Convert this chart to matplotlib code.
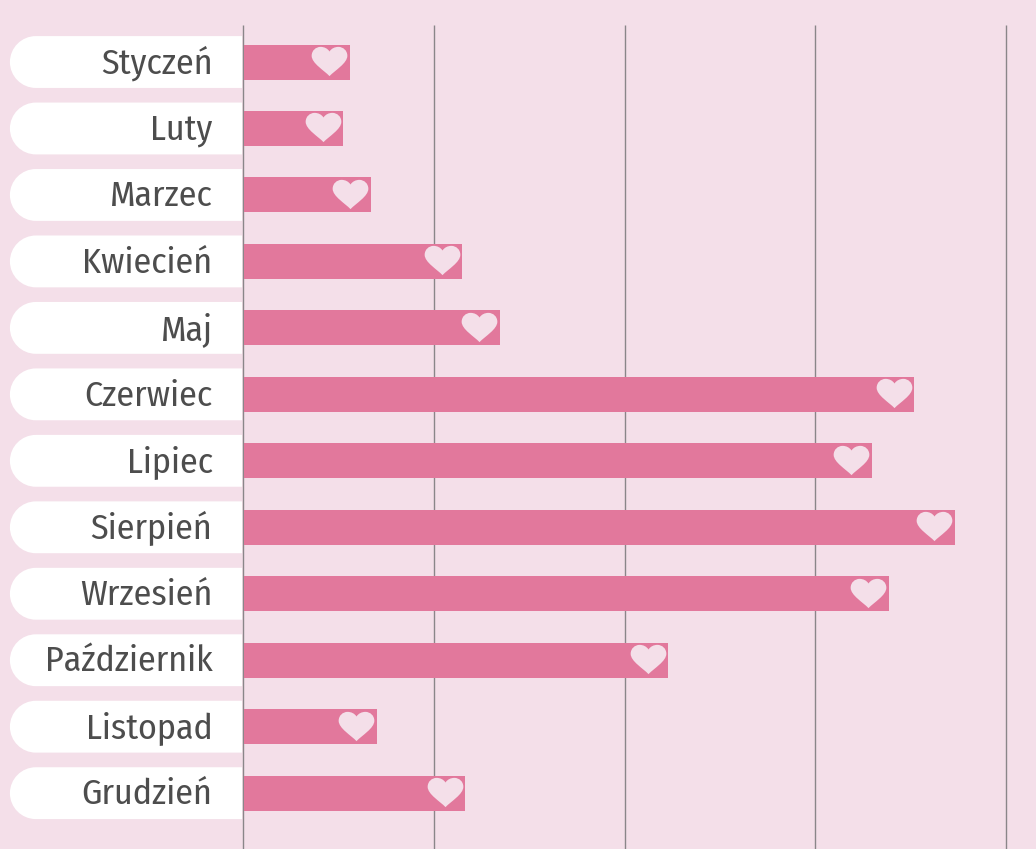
import matplotlib
matplotlib.use('Agg')
import matplotlib.pyplot as plt
from matplotlib.path import Path
from matplotlib.patches import PathPatch

months = ['Styczeń', 'Luty', 'Marzec', 'Kwiecień', 'Maj', 'Czerwiec', 'Lipiec',
          'Sierpień', 'Wrzesień', 'Październik', 'Listopad', 'Grudzień']
values = [56, 52.5, 67, 115, 134.5, 352, 329.5, 373, 338.5, 223, 70, 116.5]
grid_ticks = [0, 100, 200, 300, 400]

bg = '#f4dfe9'
bar_color = '#e2789c'
grid_color = '#8a8689'
text_color = '#4d4d4d'

# heart marker, x runs -1 to 1
heart = Path(
    [(0, -0.82), (-0.3, -0.5), (-1, -0.1), (-1, 0.32),
     (-1, 0.62), (-0.76, 0.82), (-0.5, 0.82),
     (-0.28, 0.82), (-0.1, 0.72), (0, 0.56),
     (0.1, 0.72), (0.28, 0.82), (0.5, 0.82),
     (0.76, 0.82), (1, 0.62), (1, 0.32),
     (1, -0.1), (0.3, -0.5), (0, -0.82), (0, -0.82)],
    [Path.MOVETO] + [Path.CURVE4] * 18 + [Path.CLOSEPOLY])

fig = plt.figure(figsize=(10.36, 8.49), dpi=100, facecolor=bg)
ax = fig.add_axes([0, 0, 1, 1])
ax.set_facecolor(bg)
ax.axis('off')

# one axes over the whole figure, 1.9075 px per x unit and 66.45 px per row
ax.set_xlim(-127.4, 415.7)
ax.set_ylim(11.84, -0.933)

# white label tabs, rounded on the left only
tab_left, tab_right = -122.2, -0.5
rx, ry = 13.6, 0.39
k = 0.5523
for i in range(len(months)):
    verts = [(tab_right, i - ry), (tab_left + rx, i - ry),
             (tab_left + rx - k * rx, i - ry), (tab_left, i - k * ry), (tab_left, i),
             (tab_left, i + k * ry), (tab_left + rx - k * rx, i + ry), (tab_left + rx, i + ry),
             (tab_right, i + ry), (tab_right, i - ry)]
    codes = [Path.MOVETO, Path.LINETO, Path.CURVE4, Path.CURVE4, Path.CURVE4,
             Path.CURVE4, Path.CURVE4, Path.CURVE4, Path.LINETO, Path.CLOSEPOLY]
    ax.add_patch(PathPatch(Path(verts, codes), facecolor='white', edgecolor='none', zorder=1))
    ax.text(-16.0, i + 0.02, months[i], ha='right', va='center', fontsize=25.8,
            color=text_color, family=['Fira Sans Condensed', 'Lato'], zorder=4)

ax.vlines(grid_ticks, -0.557, 11.84, color=grid_color, lw=1.0, zorder=2)
ax.barh(range(len(months)), [v - 0.5 for v in values], left=0.5, height=0.527,
        color=bar_color, zorder=3)
ax.scatter([v - 10.7 for v in values], [i - 0.015 for i in range(len(months))], marker=heart,
           s=660, color=bg, linewidths=0, zorder=4)

plt.savefig('out.png', dpi=100, facecolor=bg)
